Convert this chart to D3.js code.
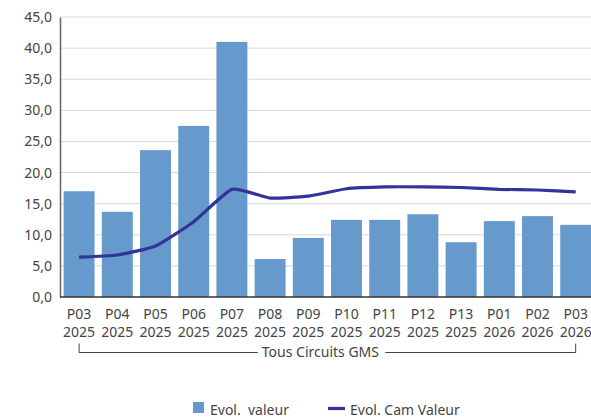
<!DOCTYPE html>
<html><head><meta charset="utf-8">
<script src="https://cdn.jsdelivr.net/npm/d3@7"></script>
<style>body{margin:0;background:#fff;}svg{display:block;font-family:"Noto Sans",Roboto,sans-serif;}text{white-space:pre;}</style>
</head><body>
<svg id="c" width="591" height="420"></svg>
<script>
const periods = ["P03","P04","P05","P06","P07","P08","P09","P10","P11","P12","P13","P01","P02","P03"];
const years = ["2025","2025","2025","2025","2025","2025","2025","2025","2025","2025","2025","2026","2026","2026"];
const evolValeur = [17.0,13.7,23.6,27.5,41.0,6.1,9.5,12.4,12.4,13.3,8.8,12.2,13.0,11.6];
const evolCamValeur = [6.4,6.75,8.2,12.1,17.3,15.9,16.2,17.4,17.7,17.7,17.6,17.3,17.2,16.9];
const yTicks = [0,5,10,15,20,25,30,35,40,45];
const groupLabel = "Tous Circuits GMS";
const legendLabels = ["Evol.  valeur","Evol. Cam Valeur"];

const svg = d3.select("#c");
const idx = d3.range(periods.length);
const x = d3.scaleBand().domain(idx).range([60, 60 + 14*38.2]).paddingInner(0.19).paddingOuter(0.095);
const y = d3.scaleLinear().domain([0,45]).range([297,17]);
const fmt = v => d3.format(".1f")(v).replace(".", ",");
const FS = 14;

// grid
svg.append("g").selectAll("line").data(yTicks.filter(t=>t>0)).join("line")
  .attr("x1",60).attr("x2",591).attr("y1",d=>y(d)).attr("y2",d=>y(d))
  .attr("stroke","#d9d9d9").attr("stroke-width",1);

// bars
svg.append("g").selectAll("rect").data(evolValeur).join("rect")
  .attr("x",(d,i)=>x(i)).attr("width",x.bandwidth())
  .attr("y",d=>y(d)).attr("height",d=>y(0)-y(d))
  .attr("fill","#6699cc");

// line
const line = d3.line().x((d,i)=>x(i)+x.bandwidth()/2).y(d=>y(d)).curve(d3.curveCardinal.tension(0.5));
svg.append("path").datum(evolCamValeur).attr("d",line)
  .attr("fill","none").attr("stroke","#333399").attr("stroke-width",3.2);

// y axis
const ya = d3.axisLeft(y).tickValues(yTicks).tickFormat(fmt).tickSize(0).tickPadding(8);
const yg = svg.append("g").attr("transform","translate(60,0)").call(ya);
yg.select(".domain").attr("stroke","#666").attr("stroke-width",1.5);
yg.selectAll("text").attr("font-size",FS).attr("fill","#444").attr("font-family","Noto Sans, Roboto, sans-serif");

// x axis line
svg.append("line").attr("x1",60).attr("x2",591).attr("y1",297).attr("y2",297).attr("stroke","#333").attr("stroke-width",1.5);

// x labels
const xl = svg.append("g").attr("font-size",FS).attr("fill","#444").attr("text-anchor","middle");
xl.selectAll("text.p").data(periods).join("text").attr("class","p")
  .attr("x",(d,i)=>x(i)+x.bandwidth()/2).attr("y",319).text(d=>d);
xl.selectAll("text.yr").data(years).join("text").attr("class","yr")
  .attr("x",(d,i)=>x(i)+x.bandwidth()/2).attr("y",336.5).text(d=>d);

// group bracket
const gx0 = x(0)+x.bandwidth()/2, gx1 = x(13)+x.bandwidth()/2;
const gt = svg.append("text").attr("x",(gx0+gx1)/2 - 7).attr("y",357).attr("text-anchor","middle")
  .attr("font-size",FS).attr("fill","#444").text(groupLabel);
const bb = gt.node().getBBox();
const br = svg.append("g").attr("stroke","#444").attr("stroke-width",1).attr("fill","none");
br.append("path").attr("d",`M${gx0},343.5V352.5H${bb.x-4}`);
br.append("path").attr("d",`M${bb.x+bb.width+6},352.5H${gx1}V343.5`);

// legend
const lg = svg.append("g").attr("font-size",FS).attr("fill","#444");
lg.append("rect").attr("x",193).attr("y",402).attr("width",11).attr("height",11).attr("fill","#6699cc");
lg.append("text").attr("x",210).attr("y",415).text(legendLabels[0]);
lg.append("line").attr("x1",328).attr("x2",345).attr("y1",408.5).attr("y2",408.5).attr("stroke","#333399").attr("stroke-width",3.2);
lg.append("text").attr("x",350).attr("y",415).text(legendLabels[1]);
</script>
</body></html>
